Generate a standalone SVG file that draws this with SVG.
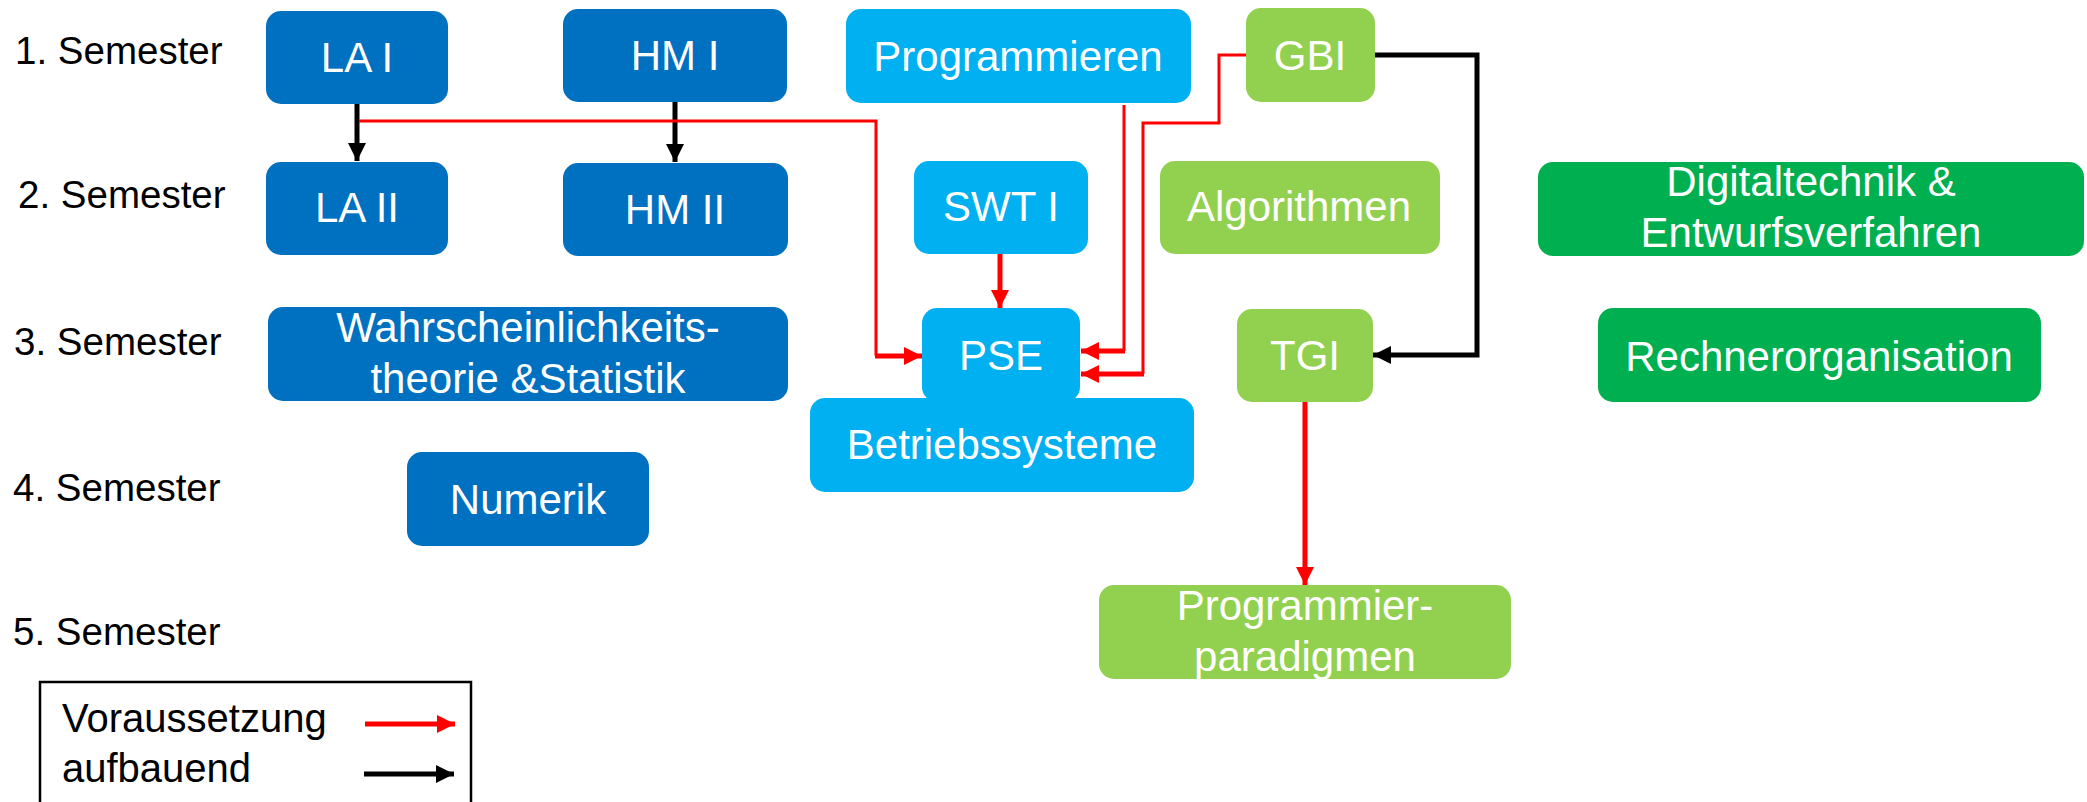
<svg xmlns="http://www.w3.org/2000/svg" width="2087" height="802" viewBox="0 0 2087 802">
<defs>
<style>
.sem{font-family:"Liberation Sans",Arial,sans-serif;font-size:38.5px;fill:#000}
.lg{font-family:"Liberation Sans",Arial,sans-serif;font-size:40px;fill:#000}
.nt{font-family:"Liberation Sans",Arial,sans-serif;font-size:42px;fill:#fff;text-anchor:middle}
.db{fill:#0070C0}
.lb{fill:#00B0F0}
.lgr{fill:#92D050}
.gr{fill:#00B050}
.red{fill:none;stroke:#FF0000;stroke-width:3}
.redt{fill:none;stroke:#FF0000;stroke-width:5}
.blk{fill:none;stroke:#000;stroke-width:5}
</style>
<marker id="ar" markerUnits="userSpaceOnUse" markerWidth="20" markerHeight="18" refX="18" refY="9" orient="auto">
<path d="M0,0 L18,9 L0,18 Z" fill="#FF0000"/>
</marker>
<marker id="ab" markerUnits="userSpaceOnUse" markerWidth="20" markerHeight="18" refX="18" refY="9" orient="auto">
<path d="M0,0 L18,9 L0,18 Z" fill="#000"/>
</marker>
</defs>

<g id="semesters">
<text class="sem" x="15" y="64">1. Semester</text>
<text class="sem" x="18" y="208">2. Semester</text>
<text class="sem" x="14" y="355">3. Semester</text>
<text class="sem" x="13" y="501">4. Semester</text>
<text class="sem" x="13" y="645">5. Semester</text>
</g>

<g id="la1"><rect class="db" x="266" y="11" width="182" height="93" rx="15"/><text class="nt" x="357" y="72">LA I</text></g>
<g id="la2"><rect class="db" x="266" y="162" width="182" height="93" rx="15"/><text class="nt" x="357" y="222">LA II</text></g>
<g id="hm1"><rect class="db" x="563" y="9" width="224" height="93" rx="15"/><text class="nt" x="675" y="70">HM I</text></g>
<g id="hm2"><rect class="db" x="563" y="163" width="225" height="93" rx="15"/><text class="nt" x="675" y="224">HM II</text></g>
<g id="wst"><rect class="db" x="268" y="307" width="520" height="94" rx="15"/><text class="nt" x="528" y="342">Wahrscheinlichkeits-</text><text class="nt" x="528" y="393">theorie &amp;Statistik</text></g>
<g id="numerik"><rect class="db" x="407" y="452" width="242" height="94" rx="15"/><text class="nt" x="528" y="514">Numerik</text></g>

<g id="prog"><rect class="lb" x="846" y="9" width="345" height="94" rx="15"/><text class="nt" x="1018" y="71">Programmieren</text></g>
<g id="swt"><rect class="lb" x="914" y="161" width="174" height="93" rx="15"/><text class="nt" x="1001" y="221">SWT I</text></g>
<g id="pse"><rect class="lb" x="922" y="308" width="158" height="94" rx="15"/><text class="nt" x="1001" y="370">PSE</text></g>
<g id="bs"><rect class="lb" x="810" y="398" width="384" height="94" rx="15"/><text class="nt" x="1002" y="459">Betriebssysteme</text></g>

<g id="gbi"><rect class="lgr" x="1246" y="8" width="129" height="94" rx="15"/><text class="nt" x="1310" y="70">GBI</text></g>
<g id="algo"><rect class="lgr" x="1160" y="161" width="280" height="93" rx="15"/><text class="nt" x="1299" y="221">Algorithmen</text></g>
<g id="tgi"><rect class="lgr" x="1237" y="309" width="136" height="93" rx="15"/><text class="nt" x="1305" y="370">TGI</text></g>
<g id="pp"><rect class="lgr" x="1099" y="585" width="412" height="94" rx="15"/><text class="nt" x="1305" y="620">Programmier-</text><text class="nt" x="1305" y="671">paradigmen</text></g>

<g id="dt"><rect class="gr" x="1538" y="162" width="546" height="94" rx="15"/><text class="nt" x="1811" y="196">Digitaltechnik &amp;</text><text class="nt" x="1811" y="247">Entwurfsverfahren</text></g>
<g id="ro"><rect class="gr" x="1598" y="308" width="443" height="94" rx="15"/><text class="nt" x="1819" y="371">Rechnerorganisation</text></g>

<g id="connectors">
<line class="blk" x1="357" y1="104" x2="357" y2="161" marker-end="url(#ab)"/>
<line class="blk" x1="675" y1="102" x2="675" y2="162" marker-end="url(#ab)"/>
<polyline class="red" points="359,121 876,121 876,356"/>
<polyline class="redt" points="875,356 922,356" marker-end="url(#ar)"/>
<polyline class="red" points="1124,105 1124,351"/>
<polyline class="redt" points="1125,351 1081,351" marker-end="url(#ar)"/>
<polyline class="red" points="1246,55 1219,55 1219,123 1143,123 1143,374"/>
<polyline class="redt" points="1144,374 1081,374" marker-end="url(#ar)"/>
<line class="redt" x1="1000" y1="254" x2="1000" y2="308" marker-end="url(#ar)"/>
<polyline class="blk" points="1375,55 1477,55 1477,355 1373,355" marker-end="url(#ab)"/>
<line class="redt" x1="1305" y1="402" x2="1305" y2="585" marker-end="url(#ar)"/>
</g>

<g id="legend">
<rect x="40" y="682" width="431" height="140" fill="none" stroke="#000" stroke-width="2.5"/>
<text class="lg" x="62" y="732">Voraussetzung</text>
<text class="lg" x="62" y="782">aufbauend</text>
<line class="redt" x1="365" y1="724" x2="455" y2="724" marker-end="url(#ar)"/>
<line class="blk" x1="364" y1="774" x2="454" y2="774" marker-end="url(#ab)"/>
</g>
</svg>
